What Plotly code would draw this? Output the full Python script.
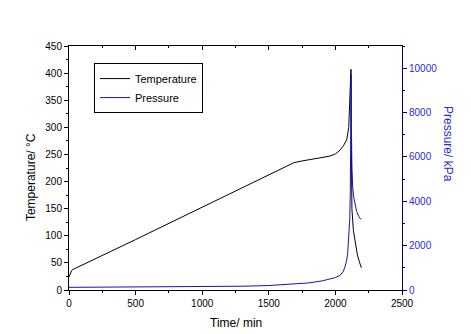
import plotly.graph_objects as go

# ---- data ----
temp_time = [0, 10, 20, 30, 100, 200, 300, 400, 500, 600, 700, 800, 900, 1000,
             1100, 1200, 1300, 1400, 1500, 1600, 1690, 1750, 1800, 1900, 1960,
             2000, 2035, 2060, 2085, 2100, 2105, 2112, 2117, 2119, 2121, 2124,
             2135, 2150, 2165, 2180, 2195]
temp_val = [24, 30, 36, 38, 46, 58, 69, 81, 93, 105, 117, 129, 141, 152,
            164, 176, 188, 200, 212, 224, 235, 238, 240, 244, 247,
            251, 258, 266, 277, 300, 326, 370, 407, 300, 200, 150,
            110, 85, 65, 52, 41]

pres_time = [0, 500, 1000, 1300, 1500, 1700, 1800, 1900, 1950, 2000, 2035, 2060,
             2072, 2085, 2092, 2102, 2108, 2112, 2115, 2117, 2118, 2120, 2124,
             2130, 2140, 2160, 2175, 2192]
pres_val = [120, 130, 150, 170, 200, 260, 320, 410, 470, 560, 660, 850,
            1050, 1350, 1650, 2400, 3200, 4500, 6760, 9000, 9700, 7500, 5500,
            4600, 4100, 3530, 3320, 3180]

x_title = "Time/ min"
y1_title = "Temperature/ °C"
y2_title = "Pressure/ kPa"

FONT = "Liberation Sans, Arial, sans-serif"
NAVY = "#000080"
BLUE = "#2a2ad8"

fig = go.Figure()
fig.add_trace(go.Scatter(x=temp_time, y=temp_val, mode="lines", name="Temperature",
                         line=dict(color="black", width=1)))
fig.add_trace(go.Scatter(x=pres_time, y=pres_val, mode="lines", name="Pressure",
                         yaxis="y2", line=dict(color="#1515b0", width=1)))
# helper (empty) trace to create the top mirror axis
fig.add_trace(go.Scatter(x=[], y=[], xaxis="x2", showlegend=False, hoverinfo="skip"))

fig.update_layout(
    width=471, height=334,
    margin=dict(l=69, r=69, t=46, b=44),
    paper_bgcolor="white", plot_bgcolor="white",
    font=dict(family=FONT, size=10, color="black"),
    showlegend=True,
    legend=dict(x=0.075, y=0.93, xanchor="left", yanchor="top",
                bordercolor="black", borderwidth=1, bgcolor="white",
                font=dict(size=11, family=FONT), tracegroupgap=0,
                itemwidth=30),
    xaxis=dict(range=[0, 2500], dtick=500, tick0=0, showgrid=False, zeroline=False,
               showline=True, linecolor="black", linewidth=1,
               ticks="outside", ticklen=4, tickcolor="black",
               minor=dict(dtick=250, ticks="outside", ticklen=2, tickcolor="black"),
               tickfont=dict(size=10)),
    xaxis2=dict(range=[0, 2500], dtick=500, tick0=0, overlaying="x", side="top",
                anchor="y", showgrid=False, zeroline=False,
                showline=True, linecolor="black", linewidth=1,
                ticks="inside", ticklen=4, tickcolor="black",
                minor=dict(dtick=250, ticks="inside", ticklen=2, tickcolor="black"),
                showticklabels=False),
    yaxis=dict(range=[0, 450], dtick=50, tick0=0, showgrid=False, zeroline=False,
               showline=True, linecolor="black", linewidth=1,
               ticks="outside", ticklen=4, tickcolor="black",
               minor=dict(dtick=25, ticks="outside", ticklen=2, tickcolor="black"),
               tickfont=dict(size=10)),
    yaxis2=dict(range=[0, 11000], dtick=2000, tick0=0, overlaying="y", side="right",
                anchor="x", showgrid=False, zeroline=False, tickformat="d",
                showline=True, linecolor=NAVY, linewidth=1,
                ticks="outside", ticklen=4, tickcolor=NAVY,
                minor=dict(dtick=1000, ticks="outside", ticklen=2, tickcolor=NAVY),
                tickfont=dict(size=10, color=BLUE)),
    annotations=[
        dict(text=x_title, xref="paper", yref="paper", x=0.5, y=-0.135,
             xanchor="center", yanchor="middle", showarrow=False,
             font=dict(size=12, family=FONT, color="black")),
        dict(text=y1_title, xref="paper", yref="paper", x=-0.114, y=0.463,
             xanchor="center", yanchor="middle", showarrow=False, textangle=-90,
             font=dict(size=12, family=FONT, color="black")),
        dict(text=y2_title, xref="paper", yref="paper", x=1.14, y=0.6,
             xanchor="center", yanchor="middle", showarrow=False, textangle=90,
             font=dict(size=12, family=FONT, color=BLUE)),
    ],
)

fig.write_html("out.html")
